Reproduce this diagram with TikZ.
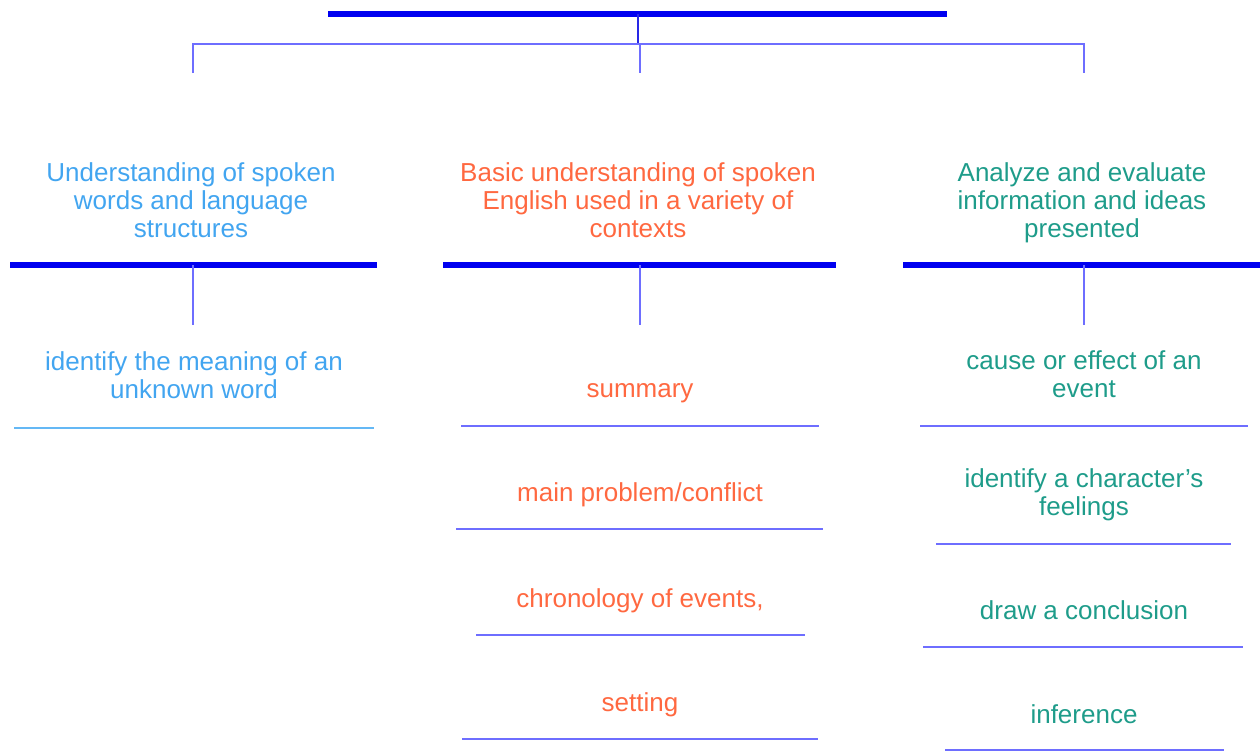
\documentclass[tikz,border=0pt]{standalone}
\usepackage{fontspec}
\setmainfont{Liberation Sans}
\definecolor{leftc}{RGB}{66,165,240}
\definecolor{midc}{RGB}{255,104,64}
\definecolor{rightc}{RGB}{30,156,138}
\definecolor{boldline}{RGB}{0,0,240}
\definecolor{thinline}{RGB}{110,110,255}
\definecolor{topstem}{RGB}{40,40,230}
\definecolor{leftline}{RGB}{100,184,245}
\begin{document}
\begin{tikzpicture}[x=0.75pt,y=-0.75pt,
  txt/.style={inner sep=0pt,align=center,font=\fontsize{19.5}{21}\selectfont},
  lt/.style={txt,text=leftc},
  mt/.style={txt,text=midc},
  rt/.style={txt,text=rightc},
  bold/.style={draw=boldline,line width=3.8pt},
  thin/.style={draw=thinline,line width=1.5pt},
  bus/.style={draw=thinline,line width=1.6pt}]
\useasboundingbox (0,0) rectangle (1260,751);
% top bar and bus
\coordinate (topL) at (328,14);
\coordinate (topR) at (947,14);
\coordinate (topC) at (638,14);
\coordinate (busC) at (638,44);
\coordinate (busL) at (193,44);
\coordinate (busM) at (640,44);
\coordinate (busR) at (1084,44);
\coordinate (stL) at (193,73);
\coordinate (stM) at (640,73);
\coordinate (stR) at (1084,73);
\draw[bold] (topL) -- (topR);
\draw[draw=topstem,line width=1.5pt] (topC) -- (busC);
\draw[bus] (stL) -- (busL) -- (busR) -- (stR);
\draw[bus] (busM) -- (stM);
% headings
\node[lt] (hL) at (191,200) {Understanding of spoken\\words and language\\structures};
\node[mt] (hM) at (638,200) {Basic understanding of spoken\\English used in a variety of\\contexts};
\node[rt] (hR) at (1082,203) {Analyze and evaluate\\information and ideas\\presented};
% heading bars
\coordinate (bL1) at (10,265); \coordinate (bL2) at (377,265);
\coordinate (bM1) at (443,265); \coordinate (bM2) at (836,265);
\coordinate (bR1) at (903,265); \coordinate (bR2) at (1262,265);
\draw[bold] (bL1) -- (bL2);
\draw[bold] (bM1) -- (bM2);
\draw[bold] (bR1) -- (bR2);
\coordinate (vL1) at (193,265); \coordinate (vL2) at (193,325);
\coordinate (vM1) at (640,265); \coordinate (vM2) at (640,325);
\coordinate (vR1) at (1084,265); \coordinate (vR2) at (1084,325);
\draw[thin] (vL1) -- (vL2);
\draw[thin] (vM1) -- (vM2);
\draw[thin] (vR1) -- (vR2);
% left column
\node[lt] (l1) at (194,375) {identify the meaning of an\\unknown word};
\coordinate (l1a) at (14,428); \coordinate (l1b) at (374,428);
\draw[draw=leftline,line width=1.5pt] (l1a) -- (l1b);
% middle column
\node[mt] (m1) at (640,393) {summary};
\coordinate (m1a) at (461,426); \coordinate (m1b) at (819,426);
\draw[thin] (m1a) -- (m1b);
\node[mt] (m2) at (640,495) {main problem/conflict};
\coordinate (m2a) at (456,529); \coordinate (m2b) at (823,529);
\draw[thin] (m2a) -- (m2b);
\node[mt] (m3) at (640,601) {chronology of events,};
\coordinate (m3a) at (476,635); \coordinate (m3b) at (805,635);
\draw[thin] (m3a) -- (m3b);
\node[mt] (m4) at (640,705) {setting};
\coordinate (m4a) at (462,739); \coordinate (m4b) at (818,739);
\draw[thin] (m4a) -- (m4b);
% right column
\node[rt] (r1) at (1084,374) {cause or effect of an\\event};
\coordinate (r1a) at (920,426); \coordinate (r1b) at (1248,426);
\draw[thin] (r1a) -- (r1b);
\node[rt] (r2) at (1084,495) {identify a character’s\\feelings};
\coordinate (r2a) at (936,544); \coordinate (r2b) at (1231,544);
\draw[thin] (r2a) -- (r2b);
\node[rt] (r3) at (1084,610) {draw a conclusion};
\coordinate (r3a) at (923,647); \coordinate (r3b) at (1243,647);
\draw[thin] (r3a) -- (r3b);
\node[rt] (r4) at (1084,714) {inference};
\coordinate (r4a) at (945,750); \coordinate (r4b) at (1224,750);
\draw[thin] (r4a) -- (r4b);
\end{tikzpicture}
\end{document}
